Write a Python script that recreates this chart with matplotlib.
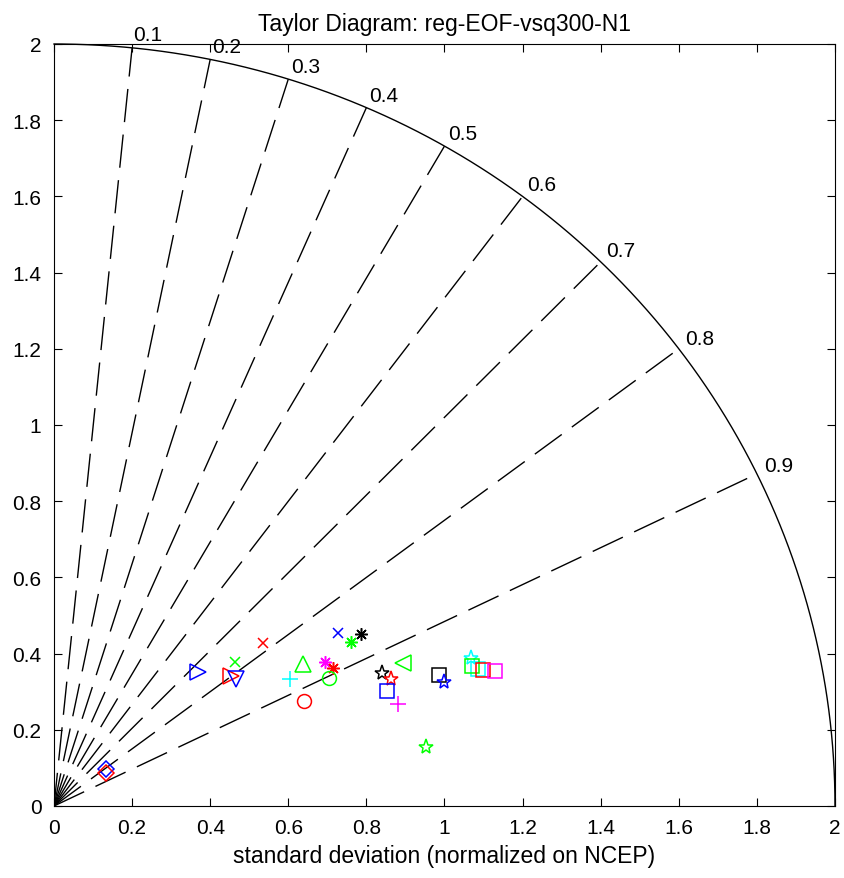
import numpy as np
import matplotlib
matplotlib.use("Agg")
import matplotlib.pyplot as plt
from matplotlib.ticker import FuncFormatter

# ---------------- data ----------------
title = "Taylor Diagram: reg-EOF-vsq300-N1"
xlabel = "standard deviation (normalized on NCEP)"
tick_values = [0, 0.2, 0.4, 0.6, 0.8, 1.0, 1.2, 1.4, 1.6, 1.8, 2.0]
corr_levels = [0.1, 0.2, 0.3, 0.4, 0.5, 0.6, 0.7, 0.8, 0.9]
std_max = 2.0

# model points: marker kind, colour, normalized std, correlation
kinds = ["diamond", "diamond", "tri_right", "x", "tri_right", "tri_down", "x",
         "tri_up", "plus", "circle", "asterisk", "asterisk", "circle", "x",
         "asterisk", "asterisk", "tri_left", "pentagram", "pentagram", "square",
         "plus", "pentagram", "square", "pentagram", "pentagram", "square",
         "square", "square", "square"]
colors = ["blue", "red", "blue", "green", "red", "blue", "red",
          "green", "cyan", "red", "magenta", "red", "green", "blue",
          "green", "black", "green", "black", "red", "blue",
          "magenta", "green", "black", "blue", "cyan", "cyan",
          "green", "red", "magenta"]
stds = [0.164, 0.158, 0.511, 0.598, 0.567, 0.573, 0.684,
        0.738, 0.690, 0.698, 0.790, 0.801, 0.781, 0.859,
        0.875, 0.906, 0.970, 0.910, 0.924, 0.904,
        0.921, 0.965, 1.044, 1.051, 1.135, 1.144,
        1.132, 1.155, 1.185]
corrs = [0.806, 0.835, 0.724, 0.774, 0.799, 0.814, 0.781,
         0.863, 0.876, 0.918, 0.878, 0.892, 0.903, 0.848,
         0.870, 0.867, 0.922, 0.923, 0.933, 0.943,
         0.957, 0.987, 0.944, 0.951, 0.940, 0.949,
         0.946, 0.951, 0.954]

# ---------------- styles ----------------
rgb = {"blue": "#0000ff", "red": "#ff0000", "green": "#00ff00",
       "cyan": "#00ffff", "magenta": "#ff00ff", "black": "#000000"}
marker_style = {
    "diamond": ("D", 8.5),
    "tri_right": (">", 11),
    "tri_left": ("<", 11),
    "tri_up": ("^", 11),
    "tri_down": ("v", 11),
    "x": ("x", 6.5),
    "plus": ("+", 11.5),
    "circle": ("o", 10),
    "asterisk": ((8, 2, 0), 9),
    "pentagram": ("*", 11),
    "square": ("s", 10),
}

plt.rcParams["font.family"] = ["Liberation Sans", "DejaVu Sans"]
plt.rcParams["font.size"] = 15

fig = plt.figure(figsize=(8.45, 8.79), dpi=100)
ax = fig.add_axes([54 / 845, 1 - 807 / 879, (835 - 54) / 845, (807 - 45) / 879])

# outer arc
theta = np.linspace(0, np.pi / 2, 400)
ax.plot(std_max * np.cos(theta), std_max * np.sin(theta), color="k", lw=1.0,
        clip_on=False, zorder=2)

# correlation rays and labels
for c in corr_levels:
    s = np.sqrt(1 - c ** 2)
    ax.plot([0, std_max * c], [0, std_max * s], color="k", lw=1.0,
            dashes=(24, 9), zorder=1)
    ax.text(2.02 * c, 2.02 * s, f"{c:g}", ha="left", va="baseline", fontsize=15)

# points
for k, col, sd, cr in zip(kinds, colors, stds, corrs):
    m, ms = marker_style[k]
    x = sd * cr
    y = sd * np.sqrt(1 - cr ** 2)
    ax.plot([x], [y], linestyle="none", marker=m, markersize=ms,
            markerfacecolor="none", markeredgecolor=rgb[col], color=rgb[col],
            markeredgewidth=1.1, zorder=3)

ax.set_xlim(0, 2)
ax.set_ylim(0, 2)
ax.set_xticks(tick_values)
ax.set_yticks(tick_values)
fmt = FuncFormatter(lambda v, p: f"{v:g}")
ax.xaxis.set_major_formatter(fmt)
ax.yaxis.set_major_formatter(fmt)
ax.tick_params(direction="in", length=6, width=0.8, top=True, right=True,
               labelsize=15, pad=9)
for sp in ax.spines.values():
    sp.set_linewidth(0.8)

ax.set_title(title, fontsize=16.5, pad=10)
ax.set_xlabel(xlabel, fontsize=16.5, labelpad=5)

fig.savefig("out.png", dpi=100)
